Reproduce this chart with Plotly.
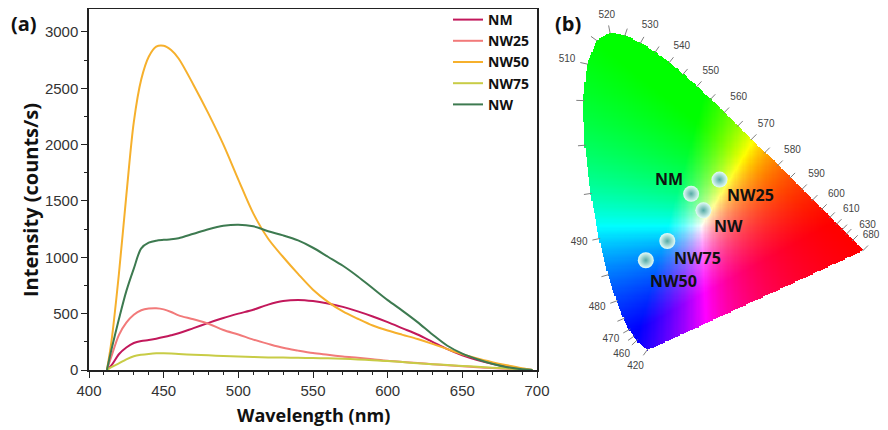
import numpy as np
import plotly.graph_objects as go

# ---------------- Panel (a) data ----------------
wavelength = [412, 415, 420, 425, 430, 435, 440, 445, 450, 455, 460, 470, 480, 490, 500,
              510, 520, 530, 540, 550, 560, 570, 580, 590, 600, 610, 620, 630, 640, 650,
              660, 670, 680, 690, 697]
nm_vals = [0, 40, 140, 200, 240, 258, 266, 278, 292, 308, 326, 372, 418, 462, 500,
           535, 580, 612, 622, 612, 590, 560, 520, 475, 425, 370, 315, 250, 185, 130,
           88, 55, 28, 8, 0]
nw25_vals = [0, 120, 310, 420, 490, 530, 545, 548, 538, 515, 485, 450, 410, 355, 315,
             270, 232, 197, 172, 150, 135, 120, 108, 95, 82, 72, 62, 52, 43, 34,
             25, 17, 10, 4, 0]
nw50_vals = [0, 250, 850, 1550, 2200, 2580, 2780, 2870, 2878, 2840, 2765, 2530, 2275, 2000, 1690,
             1390, 1165, 1003, 853, 713, 605, 520, 455, 395, 350, 312, 275, 232, 185, 140,
             102, 70, 42, 16, 0]
nw75_vals = [0, 25, 58, 95, 122, 135, 143, 148, 148, 146, 142, 135, 130, 125, 120,
             115, 112, 110, 108, 106, 104, 100, 94, 87, 80, 70, 60, 52, 44, 36,
             29, 21, 13, 5, 0]
nw_vals = [0, 180, 450, 700, 900, 1080, 1130, 1148, 1155, 1160, 1170, 1210, 1250, 1280, 1290,
           1275, 1232, 1195, 1150, 1085, 1005, 925, 830, 725, 620, 525, 425, 315, 215, 145,
           95, 55, 25, 6, 0]
series_names = ["NM", "NW25", "NW50", "NW75", "NW"]
series_colors = ["#c2185b", "#f27a7a", "#f6b02c", "#c8cc46", "#3d7a50"]

# ---------------- Panel (b) data: CIE 1931 spectral locus ----------------
locus_nm = [420, 430, 440, 445, 450, 455, 460, 465, 470, 475, 480, 485, 490, 495, 500, 505,
            510, 515, 520, 525, 530, 535, 540, 545, 550, 555, 560, 565, 570, 575, 580, 585,
            590, 595, 600, 605, 610, 615, 620, 625, 630, 640, 650, 660, 680]
locus_x = [0.1714, 0.1689, 0.1644, 0.1611, 0.1566, 0.1510, 0.1440, 0.1355, 0.1241, 0.1096,
           0.0913, 0.0687, 0.0454, 0.0235, 0.0082, 0.0039, 0.0139, 0.0389, 0.0743, 0.1142,
           0.1547, 0.1929, 0.2296, 0.2658, 0.3016, 0.3373, 0.3731, 0.4087, 0.4441, 0.4788,
           0.5125, 0.5448, 0.5752, 0.6029, 0.6270, 0.6482, 0.6658, 0.6801, 0.6915, 0.7006,
           0.7079, 0.7190, 0.7260, 0.7300, 0.7347]
locus_y = [0.0051, 0.0069, 0.0109, 0.0138, 0.0177, 0.0232, 0.0297, 0.0399, 0.0578, 0.0868,
           0.1327, 0.2007, 0.2950, 0.4127, 0.5384, 0.6548, 0.7502, 0.8120, 0.8338, 0.8262,
           0.8059, 0.7816, 0.7543, 0.7243, 0.6923, 0.6589, 0.6245, 0.5896, 0.5547, 0.5202,
           0.4866, 0.4544, 0.4242, 0.3965, 0.3725, 0.3514, 0.3340, 0.3197, 0.3083, 0.2993,
           0.2920, 0.2809, 0.2740, 0.2700, 0.2653]
tick_nm = [420, 460, 465, 470, 475, 480, 485, 490, 495, 500, 505, 510, 515, 520, 525, 530,
           535, 540, 545, 550, 555, 560, 565, 570, 575, 580, 585, 590, 595, 600, 605, 610,
           615, 620, 630, 680]
label_nm = [420, 460, 470, 480, 490, 510, 520, 530, 540, 550, 560, 570, 580, 590, 600, 610,
            630, 680]
sample_names = ["NM", "NW25", "NW", "NW75", "NW50"]
sample_x = [0.286, 0.360, 0.318, 0.224, 0.168]
sample_y = [0.412, 0.449, 0.369, 0.289, 0.239]
sample_label_shift = [(-22, 15), (31, -15), (25, -16), (30, -17), (28, -21)]

# ---------------- layout geometry (page pixels; page has an 8px body margin) ----------------
OFF = 8
W_FIG, H_FIG = 888 - 2 * OFF, 430 - OFF
PL, PT, PBOT, PRIGHT = 89, 9, 370, 878          # plot-area edges in page pixels
L, T = PL - OFF, PT - OFF
R = W_FIG - (PRIGHT - OFF)
B = H_FIG - (PBOT - OFF)
PW = W_FIG - L - R
PH = H_FIG - T - B
CIE_X0, CIE_Y0, CIE_SCALE = 581.3, 352.0, 384.0   # page px of chromaticity origin, px per unit
LABEL_MAX_X = 871.0                               # keep wavelength labels inside the page


def pxp(xp):
    return (xp - PL) / PW


def pyp(yp):
    return (PBOT - yp) / PH


fig = go.Figure()

for name, color, vals in zip(series_names, series_colors,
                             [nm_vals, nw25_vals, nw50_vals, nw75_vals, nw_vals]):
    fig.add_trace(go.Scatter(
        x=wavelength, y=vals, mode="lines", name=name,
        line=dict(color=color, width=2, shape="spline", smoothing=0.9),
        xaxis="x", yaxis="y"))

# ---- CIE colour image ----
lx = np.array(locus_x)
ly = np.array(locus_y)
poly_x = np.append(lx, lx[0])
poly_y = np.append(ly, ly[0])
step = 0.003
gx = np.arange(0.0, 0.745, step)
gy = np.arange(0.0, 0.845, step)
XX, YY = np.meshgrid(gx, gy)
inside = np.zeros(XX.shape, dtype=bool)
for i in range(len(poly_x) - 1):
    x1, y1, x2, y2 = poly_x[i], poly_y[i], poly_x[i + 1], poly_y[i + 1]
    cond = ((y1 > YY) != (y2 > YY))
    with np.errstate(divide="ignore", invalid="ignore"):
        xint = x1 + (YY - y1) * (x2 - x1) / (y2 - y1)
    inside ^= cond & (XX < xint)
Zc = 1 - XX - YY
M = np.array([[3.2406, -1.5372, -0.4986],
              [-0.9689, 1.8758, 0.0415],
              [0.0557, -0.2040, 1.0570]])
rgb = np.stack([M[k, 0] * XX + M[k, 1] * YY + M[k, 2] * Zc for k in range(3)], axis=-1)
rgb = np.clip(rgb, 0, None)
mx = rgb.max(axis=-1, keepdims=True)
mx[mx == 0] = 1
rgb = rgb / mx
rgb8 = np.round(np.clip(rgb, 0, 1) * 255).astype(int)
alpha = inside.astype(int)
img = np.concatenate([rgb8, alpha[..., None]], axis=-1)
img[~inside] = [255, 255, 255, 0]
fig.add_trace(go.Image(z=img.tolist(), x0=gx[0], dx=step, y0=gy[0], dy=step,
                       colormodel="rgba", xaxis="x2", yaxis="y2", hoverinfo="skip"))

# ---- wavelength ticks and labels ----
tx = np.gradient(lx)
ty = np.gradient(ly)
nx_, ny_ = ty, -tx
nrm = np.hypot(nx_, ny_)
nx_, ny_ = nx_ / nrm, ny_ / nrm
cx, cy = 0.33, 0.33
flip = (nx_ * (lx - cx) + ny_ * (ly - cy)) < 0
nx_[flip] *= -1
ny_[flip] *= -1
tick_xs, tick_ys = [], []
for w in tick_nm:
    i = locus_nm.index(w)
    a = -1.5 / CIE_SCALE
    b = 6.5 / CIE_SCALE
    tick_xs += [lx[i] + nx_[i] * a, lx[i] + nx_[i] * b, None]
    tick_ys += [ly[i] + ny_[i] * a, ly[i] + ny_[i] * b, None]
fig.add_trace(go.Scatter(x=tick_xs, y=tick_ys, mode="lines", xaxis="x2", yaxis="y2",
                         line=dict(color="#808080", width=1), showlegend=False,
                         hoverinfo="skip", cliponaxis=False))
lab_x, lab_y, lab_t = [], [], []
x_lim = (LABEL_MAX_X - CIE_X0) / CIE_SCALE
for w in label_nm:
    i = locus_nm.index(w)
    d = (9 + abs(nx_[i]) * 10 + abs(ny_[i]) * 6) / CIE_SCALE
    lab_x.append(min(lx[i] + nx_[i] * d, x_lim))
    lab_y.append(ly[i] + ny_[i] * d)
    lab_t.append(str(w))
fig.add_trace(go.Scatter(x=lab_x, y=lab_y, text=lab_t, mode="text", xaxis="x2", yaxis="y2",
                         textfont=dict(family="Liberation Sans, Arial", size=10, color="#444444"),
                         showlegend=False, hoverinfo="skip", cliponaxis=False))

# ---- sample points ----
fig.add_trace(go.Scatter(
    x=sample_x, y=sample_y, mode="markers", xaxis="x2", yaxis="y2", showlegend=False,
    marker=dict(size=16, color="rgb(228,252,248)",
                gradient=dict(type="radial", color="rgb(85,170,165)"),
                line=dict(width=0)),
    hoverinfo="skip"))

annotations = []
for n, sx, sy, (dx, dy) in zip(sample_names, sample_x, sample_y, sample_label_shift):
    annotations.append(dict(x=sx, y=sy, xref="x2", yref="y2", text=n, showarrow=False,
                            xshift=dx, yshift=dy, xanchor="center", yanchor="middle",
                            font=dict(family="Open Sans", size=16, color="#111111",
                                      weight="bold")))

annotations += [
    dict(x=pxp(9), y=pyp(8), xref="paper", yref="paper", text="(a)", showarrow=False,
         xanchor="left", yanchor="top",
         font=dict(family="Open Sans", size=20, color="#111111", weight="bold")),
    dict(x=pxp(568), y=pyp(8), xref="paper", yref="paper", text="(b)", showarrow=False,
         xanchor="center", yanchor="top",
         font=dict(family="Open Sans", size=20, color="#111111", weight="bold")),
    dict(x=pxp(313), y=pyp(415), xref="paper", yref="paper", text="Wavelength (nm)",
         showarrow=False, xanchor="center", yanchor="middle",
         font=dict(family="Open Sans", size=18, color="#111111", weight="bold")),
    dict(x=pxp(30), y=pyp(200), xref="paper", yref="paper", text="Intensity (counts/s)",
         showarrow=False, textangle=-90, xanchor="center", yanchor="middle",
         font=dict(family="Open Sans", size=20, color="#111111", weight="bold")),
]

tickfont = dict(family="Liberation Sans, Arial", size=15, color="#333333")
fig.update_layout(
    width=W_FIG, height=H_FIG,
    margin=dict(l=L, r=R, t=T, b=B, pad=0, autoexpand=False),
    paper_bgcolor="white", plot_bgcolor="white",
    xaxis=dict(domain=[0, pxp(537)], range=[400, 700], dtick=50, tick0=400,
               showline=True, mirror=True, linecolor="#222222", linewidth=1.5,
               ticks="outside", ticklen=6, tickwidth=1.3, tickcolor="#222222",
               minor=dict(dtick=10, ticks="outside", ticklen=3, tickwidth=1.1,
                          tickcolor="#222222", showgrid=False),
               showgrid=False, zeroline=False, tickfont=tickfont, automargin=False),
    yaxis=dict(domain=[0, 1], range=[0, 3204], dtick=500, tick0=0,
               showline=True, mirror=True, linecolor="#222222", linewidth=1.5,
               ticks="outside", ticklen=6, tickwidth=1.3, tickcolor="#222222",
               minor=dict(dtick=250, ticks="outside", ticklen=3, tickwidth=1.1,
                          tickcolor="#222222", showgrid=False),
               showgrid=False, zeroline=False, tickfont=tickfont, automargin=False),
    xaxis2=dict(domain=[pxp(550), 1],
                range=[(550 - CIE_X0) / CIE_SCALE, (PRIGHT - CIE_X0) / CIE_SCALE],
                visible=False, showgrid=False, zeroline=False),
    yaxis2=dict(domain=[0, 1],
                range=[(CIE_Y0 - PBOT) / CIE_SCALE, (CIE_Y0 - PT) / CIE_SCALE],
                visible=False, showgrid=False, zeroline=False, anchor="x2",
                scaleanchor="x2", scaleratio=1),
    legend=dict(x=pxp(448), y=pyp(4), xanchor="left", yanchor="top",
                bgcolor="rgba(0,0,0,0)",
                font=dict(family="Open Sans", size=14, color="#111111", weight="bold"),
                itemwidth=30, tracegroupgap=0),
    annotations=annotations,
    showlegend=True,
)
fig.write_html("out.html")
